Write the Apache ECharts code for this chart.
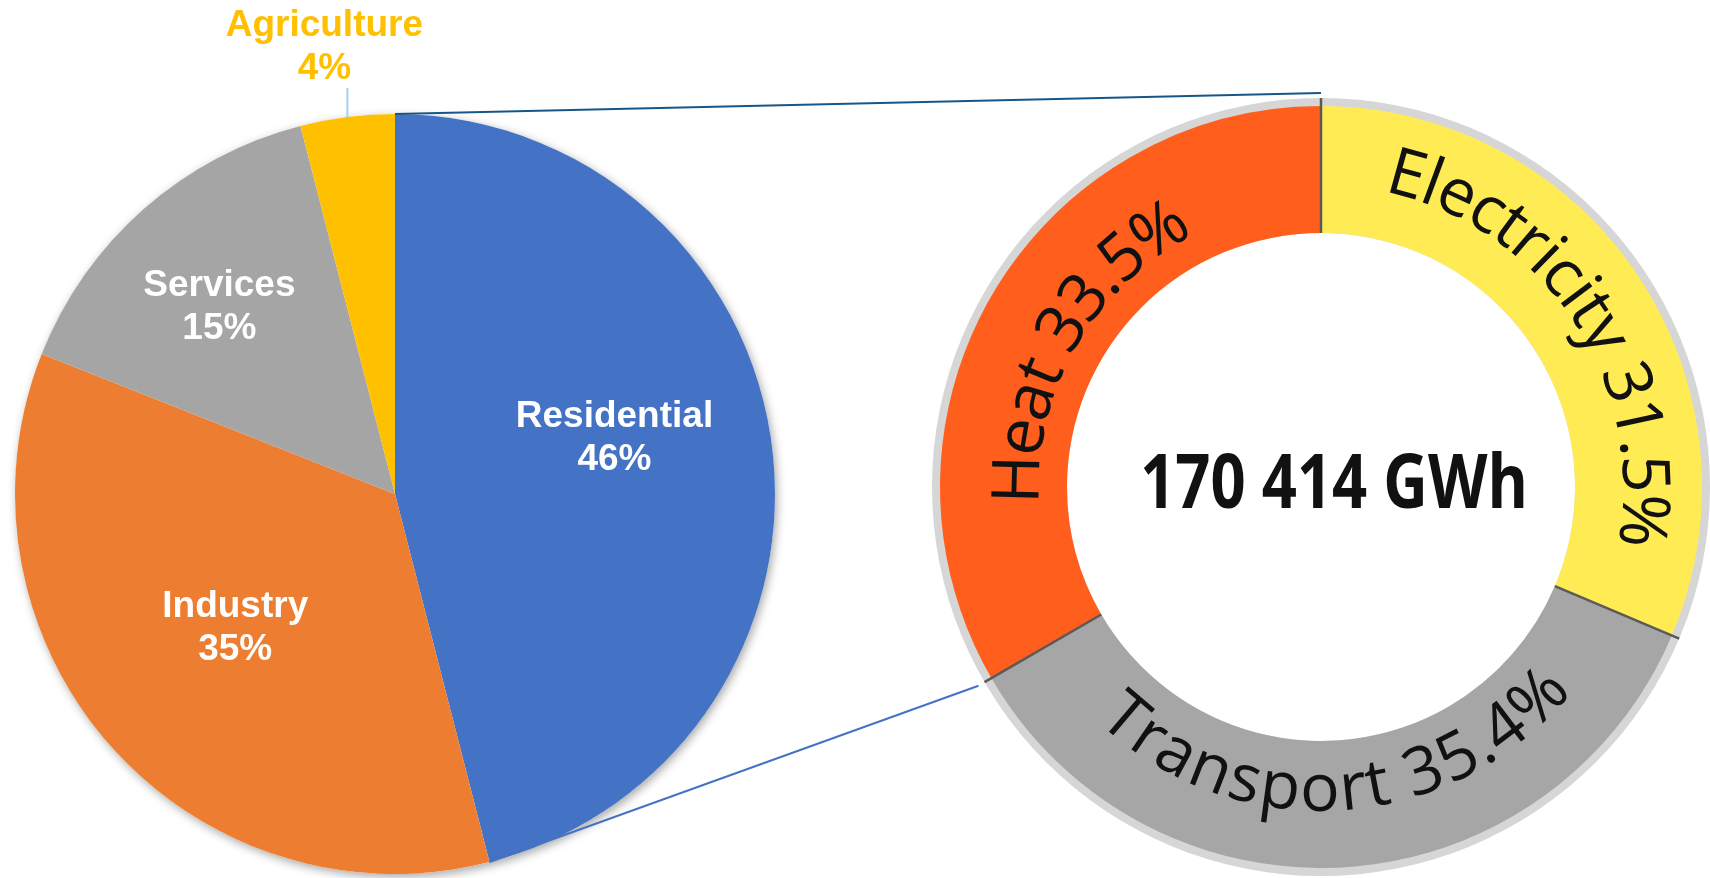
<!DOCTYPE html>
<html>
<head>
<meta charset="utf-8">
<script src="https://cdn.jsdelivr.net/npm/echarts@6/dist/echarts.min.js"></script>
<style>
html, body { margin: 0; padding: 0; background: #fff; }
#main { width: 1710px; height: 878px; }
</style>
</head>
<body>
<div id="main"></div>
<script>
// left pie: consumption by sector (%)
var sectorNames = ['Residential', 'Industry', 'Services', 'Agriculture'];
var sectorValues = [46, 35, 15, 4];
var sectorColors = ['#4472C4', '#ED7D31', '#A5A5A5', '#FFC000'];

// right ring: residential use (%)
var useNames = ['Electricity', 'Transport', 'Heat'];
var useValues = [31.5, 35.4, 33.5];
var useColors = ['#FFEC55', '#A6A6A6', '#FF5E1C'];
var totalText = '170 414 GWh';

// layout
var pieC = [395, 494], pieR = 380;
var ringC = [1321, 487], ringIn = 254, ringOut = 381;
var labelShift = [[28, -32], [-15, 7], [-48, -42]];
var ringTextR = [321, 305, 301];      // radius of the text middle
var ringTextInward = [false, true, false];
var ringFont = '66px "Open Sans"';

function polar(c, r, t) {
    return [c[0] + r * Math.sin(t), c[1] - r * Math.cos(t)];
}
function cumAngles(vals) {
    var sum = vals.reduce(function (a, b) { return a + b; }, 0);
    var out = [0], acc = 0;
    vals.forEach(function (v) { acc += v; out.push(acc / sum * Math.PI * 2); });
    return out;
}
var pieB = cumAngles(sectorValues);
var ringB = cumAngles(useValues);

// curved text along the ring
var ctx = document.createElement('canvas').getContext('2d');
ctx.font = ringFont;
function arcText(str, mid, r, inward) {
    var total = ctx.measureText(str).width;
    var span = total / r;
    var els = [];
    for (var i = 0; i < str.length; i++) {
        var a = ctx.measureText(str.slice(0, i)).width;
        var b = ctx.measureText(str.slice(0, i + 1)).width;
        var d = ((a + b) / 2) / r;
        var t = inward ? mid + span / 2 - d : mid - span / 2 + d;
        var p = polar(ringC, r, t);
        els.push({
            type: 'text', z: 100, silent: true,
            x: p[0], y: p[1],
            rotation: inward ? Math.PI - t : -t,
            style: { text: str[i], font: ringFont, fill: '#111', align: 'center', verticalAlign: 'middle' }
        });
    }
    return els;
}

var graphics = [];
useNames.forEach(function (n, i) {
    var mid = (ringB[i] + ringB[i + 1]) / 2;
    graphics = graphics.concat(arcText(n + ' ' + useValues[i] + '%', mid, ringTextR[i], ringTextInward[i]));
});
// dividers between ring slices
for (var k = 0; k < useValues.length; k++) {
    var p1 = polar(ringC, ringIn, ringB[k]), p2 = polar(ringC, ringOut + 8, ringB[k]);
    graphics.push({ type: 'line', z: 90, silent: true,
        shape: { x1: p1[0], y1: p1[1], x2: p2[0], y2: p2[1] },
        style: { stroke: '#5a5a5a', lineWidth: 2.5 } });
}
// connectors from the Residential slice to the ring
var a1 = polar(pieC, pieR, pieB[0]), b1 = polar(ringC, ringOut + 13, ringB[0]);
var a2 = polar(pieC, pieR, pieB[1]), b2 = polar(ringC, ringOut + 15, ringB[2]);
graphics.push({ type: 'line', z: 95, silent: true,
    shape: { x1: a1[0], y1: a1[1], x2: b1[0], y2: b1[1] },
    style: { stroke: '#16578A', lineWidth: 2 } });
graphics.push({ type: 'line', z: 95, silent: true,
    shape: { x1: a2[0], y1: a2[1], x2: b2[0], y2: b2[1] },
    style: { stroke: '#4472C4', lineWidth: 2 } });
// total in the middle (condensed bold)
graphics.push({ type: 'text', z: 100, silent: true, x: 1334, y: 486, scaleX: 0.81,
    style: { text: totalText, font: 'bold 76px "Open Sans"', fill: '#111',
        align: 'center', verticalAlign: 'middle' } });

var agriMid = (pieB[3] + pieB[4]) / 2;
var agriEdge = polar(pieC, pieR, agriMid);

var chart = echarts.init(document.getElementById('main'));
chart.setOption({
    animation: false,
    backgroundColor: '#fff',
    series: [
        {   // soft shadow under the pie
            type: 'pie', silent: true, center: pieC, radius: pieR, z: 1,
            label: { show: false }, labelLine: { show: false },
            itemStyle: { color: '#fff', shadowBlur: 10, shadowColor: 'rgba(0,0,0,0.35)', shadowOffsetX: 2, shadowOffsetY: 3 },
            data: [1]
        },
        {
            type: 'pie', silent: true, center: pieC, radius: pieR, z: 2,
            startAngle: 90, clockwise: true, avoidLabelOverlap: false,
            label: {
                show: true, position: 'inside', color: '#fff',
                fontFamily: '"Liberation Sans", Arial', fontWeight: 'bold', fontSize: 37, lineHeight: 43,
                formatter: '{b}\n{c}%'
            },
            labelLine: { show: false },
            labelLayout: function (p) {
                if (p.dataIndex === 3) {
                    var top = [agriEdge[0], agriEdge[1] - 29];
                    return {
                        x: agriEdge[0] - 23, y: agriEdge[1] - 27,
                        align: 'center', verticalAlign: 'bottom',
                        labelLinePoints: [agriEdge, top, top]
                    };
                }
                return { dx: labelShift[p.dataIndex][0], dy: labelShift[p.dataIndex][1] };
            },
            data: sectorNames.map(function (n, i) {
                var d = { name: n, value: sectorValues[i], itemStyle: { color: sectorColors[i] } };
                if (i === 3) {
                    d.label = { position: 'outside', color: sectorColors[i] };
                    d.labelLine = { show: true, length: 29, length2: 0, lineStyle: { color: '#9DD3F3', width: 2 } };
                }
                return d;
            })
        },
        {   // grey rim behind the ring
            type: 'pie', silent: true, center: ringC, radius: [ringIn, ringOut + 8], z: 1,
            label: { show: false }, labelLine: { show: false },
            itemStyle: { color: '#d6d6d6' },
            data: [1]
        },
        {
            type: 'pie', silent: true, center: ringC, radius: [ringIn, ringOut], z: 2,
            startAngle: 90, clockwise: true,
            label: { show: false }, labelLine: { show: false },
            data: useNames.map(function (n, i) {
                return { name: n, value: useValues[i], itemStyle: { color: useColors[i] } };
            })
        }
    ],
    graphic: { elements: graphics }
});
</script>
</body>
</html>
